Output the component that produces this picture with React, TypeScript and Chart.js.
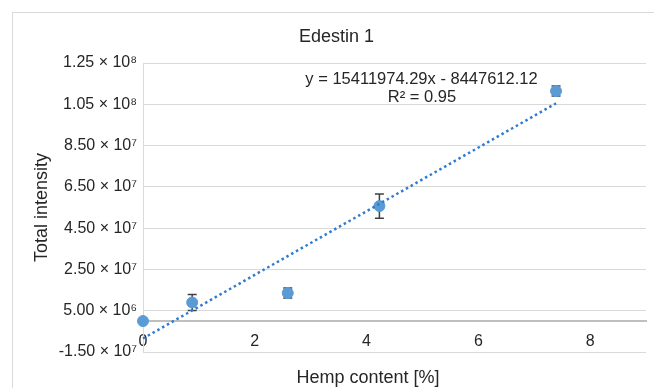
import { useEffect, useRef } from "react";
import { Chart, registerables } from "chart.js";

Chart.register(...registerables);

// ---- data ----
const HEMP_CONTENT = [0, 0.88, 2.59, 4.23, 7.39];
const TOTAL_INTENSITY = [0, 9.0e6, 1.356e7, 5.57e7, 1.114e8];
const INTENSITY_ERROR = [0, 3.9e6, 2.4e6, 5.9e6, 2.4e6];

const TREND_SLOPE = 15411974.29;
const TREND_INTERCEPT = -8447612.12;
const TREND_X_RANGE = [0, 7.39];

const X_MIN = 0;
const X_MAX = 9;
const X_TICKS = [0, 2, 4, 6, 8];
const X_TICK_LABELS = ["0", "2", "4", "6", "8"];

const Y_TICKS = [-1.5e7, 5e6, 2.5e7, 4.5e7, 6.5e7, 8.5e7, 1.05e8, 1.25e8];
const Y_TICK_LABELS = [
  "-1.50 × 10⁷",
  "5.00 × 10⁶",
  "2.50 × 10⁷",
  "4.50 × 10⁷",
  "6.50 × 10⁷",
  "8.50 × 10⁷",
  "1.05 × 10⁸",
  "1.25 × 10⁸",
];

const TITLE = "Edestin 1";
const X_TITLE = "Hemp content [%]";
const Y_TITLE = "Total intensity";
const EQUATION_LINES = ["y = 15411974.29x - 8447612.12", "R² = 0.95"];

const FONT = "'Liberation Sans', Arial, sans-serif";
const TEXT = "#262626";
const POINT_BLUE = "#5B9BD5";
const TREND_BLUE = "#2E7BCF";

const overlayPlugin = {
  id: "overlay",
  beforeDatasetsDraw(chart: any) {
    const { ctx, scales } = chart;
    const x = scales.x;
    const y = scales.y;
    ctx.save();
    ctx.strokeStyle = "#404040";
    ctx.lineWidth = 1.5;
    HEMP_CONTENT.forEach((xv, i) => {
      const e = INTENSITY_ERROR[i];
      if (!e) return;
      const px = x.getPixelForValue(xv);
      const top = y.getPixelForValue(TOTAL_INTENSITY[i] + e);
      const bot = y.getPixelForValue(TOTAL_INTENSITY[i] - e);
      ctx.beginPath();
      ctx.moveTo(px, top);
      ctx.lineTo(px, bot);
      ctx.moveTo(px - 4.5, top);
      ctx.lineTo(px + 4.5, top);
      ctx.moveTo(px - 4.5, bot);
      ctx.lineTo(px + 4.5, bot);
      ctx.stroke();
    });
    ctx.restore();
  },
  afterDraw(chart: any) {
    const { ctx, chartArea } = chart;
    ctx.save();
    ctx.fillStyle = TEXT;
    ctx.textAlign = "center";
    ctx.textBaseline = "alphabetic";
    ctx.font = `16.5px ${FONT}`;
    ctx.fillText(EQUATION_LINES[0], chartArea.left + 278.5, chartArea.top + 20.5);
    ctx.fillText(EQUATION_LINES[1], chartArea.left + 279, chartArea.top + 39);
    ctx.font = `18px ${FONT}`;
    ctx.fillText(X_TITLE, chartArea.left + 225, chartArea.bottom + 31);
    ctx.restore();
  },
};

export default function App() {
  const ref = useRef<HTMLCanvasElement | null>(null);

  useEffect(() => {
    if (!ref.current) return;
    const points = HEMP_CONTENT.map((xv, i) => ({ x: xv, y: TOTAL_INTENSITY[i] }));
    const trend = TREND_X_RANGE.map((xv) => ({ x: xv, y: TREND_SLOPE * xv + TREND_INTERCEPT }));

    const chart = new Chart(ref.current, {
      type: "scatter",
      data: {
        datasets: [
          {
            type: "line",
            label: "Linear trend",
            data: trend,
            borderColor: TREND_BLUE,
            borderWidth: 2.5,
            borderDash: [2.5, 3],
            pointRadius: 0,
            fill: false,
            clip: false,
          } as any,
          {
            label: "Edestin 1",
            data: points,
            backgroundColor: POINT_BLUE,
            borderColor: POINT_BLUE,
            pointRadius: 5.5,
            pointHoverRadius: 5.5,
            clip: false,
          } as any,
        ],
      },
      plugins: [overlayPlugin],
      options: {
        animation: false,
        responsive: false,
        devicePixelRatio: 1,
        events: [],
        layout: { padding: { left: 27, top: 26, right: 36, bottom: 36 } },
        plugins: {
          legend: { display: false },
          tooltip: { enabled: false },
          title: {
            display: true,
            text: TITLE,
            color: TEXT,
            font: { family: FONT, size: 18, weight: "normal" },
            padding: { top: 0, bottom: 15.4 },
          },
        },
        scales: {
          x: {
            type: "linear",
            position: { y: 0 } as any,
            min: X_MIN,
            max: X_MAX,
            afterBuildTicks: (scale: any) => {
              scale.ticks = X_TICKS.map((v) => ({ value: v }));
            },
            ticks: {
              color: TEXT,
              font: { family: FONT, size: 16 },
              padding: 11,
              maxRotation: 0,
              callback: (value: any) => {
                const i = X_TICKS.indexOf(Number(value));
                return i >= 0 ? X_TICK_LABELS[i] : "";
              },
            },
            grid: { display: false, drawTicks: false },
            border: { display: true, color: "#bfbfbf", width: 2 },
          },
          y: {
            type: "linear",
            position: "left",
            min: Y_TICKS[0],
            max: Y_TICKS[Y_TICKS.length - 1],
            afterBuildTicks: (scale: any) => {
              scale.ticks = Y_TICKS.map((v) => ({ value: v }));
            },
            afterFit: (scale: any) => {
              scale.width = 116;
            },
            ticks: {
              color: TEXT,
              font: { family: FONT, size: 16 },
              padding: 6,
              callback: (value: any) => {
                const i = Y_TICKS.indexOf(Number(value));
                return i >= 0 ? Y_TICK_LABELS[i] : "";
              },
            },
            grid: { color: "#d9d9d9", lineWidth: 1, drawTicks: false },
            border: { display: true, color: "#d9d9d9", width: 1 },
            title: {
              display: true,
              text: Y_TITLE,
              color: TEXT,
              font: { family: FONT, size: 18 },
              padding: { top: 4, bottom: 4 },
            },
          },
        },
      } as any,
    });
    return () => chart.destroy();
  }, []);

  return (
    <div
      style={{
        position: "fixed",
        left: 0,
        top: 0,
        width: 654,
        height: 388,
        overflow: "hidden",
        background: "#ffffff",
      }}
    >
      <div
        style={{
          position: "absolute",
          left: 12,
          top: 12,
          width: 800,
          height: 500,
          border: "1px solid #d9d9d9",
        }}
      />
      <canvas
        ref={ref}
        width={682}
        height={388}
        style={{ position: "absolute", left: 0, top: 0, width: 682, height: 388 }}
      />
    </div>
  );
}
